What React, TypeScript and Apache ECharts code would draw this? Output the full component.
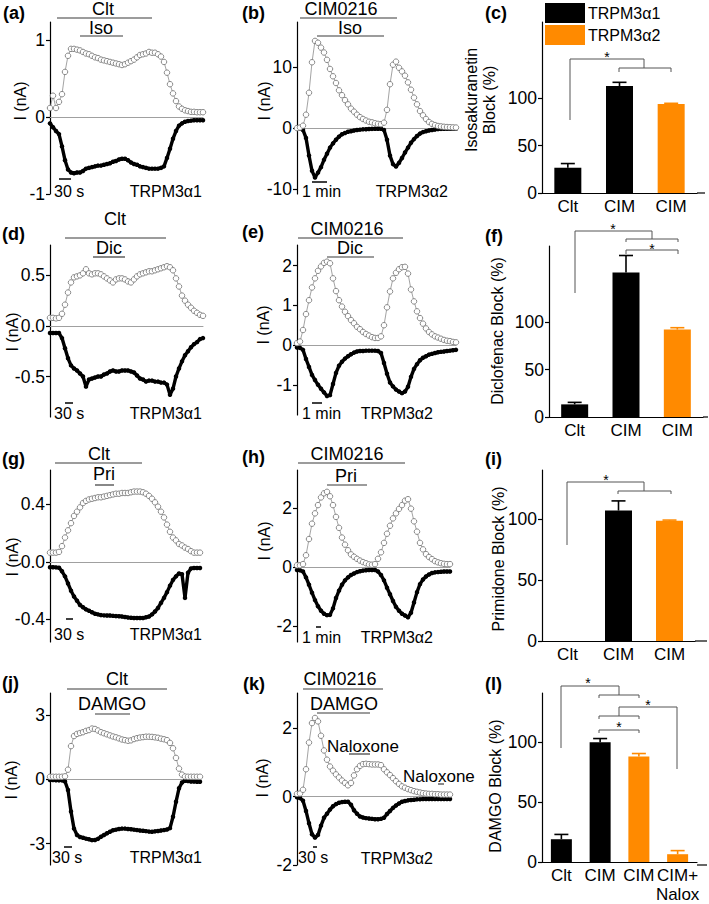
import React, { useEffect, useRef } from "react";
import * as echarts from "echarts";

const FONT = "'Liberation Sans', Arial, Helvetica, sans-serif";
const ORANGE = "#ff8a00";

// ---------- current traces (nA), uniformly sampled in time ----------
const A_DT = 7;
const A_OUT = [0.12,0.28,0.12,0.2,0.3,0.59,0.8,0.89,0.89,0.88,0.87,0.85,0.83,0.82,0.8,0.78,0.77,0.75,0.74,0.73,0.72,0.71,0.7,0.69,0.68,0.69,0.71,0.73,0.75,0.78,0.81,0.82,0.83,0.85,0.84,0.84,0.82,0.79,0.72,0.58,0.43,0.31,0.21,0.14,0.11,0.09,0.08,0.07,0.07,0.065,0.065,0.065];
const A_IN = [-0.08,-0.13,-0.18,-0.22,-0.38,-0.56,-0.68,-0.72,-0.73,-0.72,-0.72,-0.7,-0.67,-0.66,-0.65,-0.64,-0.63,-0.63,-0.62,-0.61,-0.6,-0.58,-0.57,-0.55,-0.54,-0.54,-0.56,-0.59,-0.61,-0.62,-0.64,-0.65,-0.66,-0.67,-0.67,-0.67,-0.67,-0.66,-0.64,-0.53,-0.41,-0.28,-0.18,-0.11,-0.08,-0.06,-0.05,-0.045,-0.04,-0.04,-0.04,-0.04];

const B_DT = 10;
const B_OUT = [0,0.1,0.4,2.2,5.8,10.8,14.3,14.0,13.2,12.4,11.2,9.7,8.5,7.4,6.2,5.4,4.6,3.9,3.2,2.7,2.2,1.8,1.5,1.25,1.05,0.95,0.8,0.7,0.65,0.9,3.0,7.2,10.4,10.9,9.9,9.3,8.6,7.5,6.3,5.0,3.9,2.8,2.1,1.5,1.0,0.7,0.5,0.35,0.28,0.22,0.18,0.15,0.12,0.1];
const B_IN = [0,-0.05,-0.3,-1.6,-4.5,-7.0,-8.1,-7.3,-6.4,-5.2,-4.2,-3.2,-2.5,-1.9,-1.4,-1.0,-0.8,-0.6,-0.5,-0.4,-0.3,-0.25,-0.2,-0.18,-0.15,-0.12,-0.1,-0.1,-0.1,-0.3,-1.9,-4.5,-5.9,-6.3,-5.7,-4.9,-4.0,-3.2,-2.4,-1.8,-1.3,-0.9,-0.65,-0.5,-0.38,-0.3,-0.22,-0.17,-0.13,-0.11,-0.1,-0.1,-0.1,-0.1];

const D_DT = 9;
const D_OUT = [0.08,0.08,0.075,0.08,0.12,0.21,0.33,0.43,0.48,0.49,0.5,0.52,0.56,0.52,0.51,0.52,0.52,0.51,0.49,0.47,0.45,0.43,0.46,0.47,0.47,0.46,0.44,0.43,0.46,0.49,0.51,0.52,0.53,0.54,0.54,0.55,0.56,0.57,0.58,0.59,0.58,0.55,0.47,0.39,0.3,0.25,0.21,0.18,0.15,0.13,0.11,0.1];
const D_IN = [-0.07,-0.07,-0.07,-0.07,-0.12,-0.22,-0.32,-0.39,-0.42,-0.44,-0.47,-0.5,-0.6,-0.53,-0.52,-0.51,-0.5,-0.5,-0.48,-0.47,-0.45,-0.44,-0.45,-0.45,-0.44,-0.44,-0.44,-0.45,-0.46,-0.49,-0.52,-0.53,-0.55,-0.54,-0.54,-0.55,-0.55,-0.56,-0.56,-0.58,-0.68,-0.62,-0.5,-0.42,-0.35,-0.29,-0.25,-0.21,-0.18,-0.16,-0.13,-0.12];

const E_DT = 18;
const E_OUT = [0.05,0.09,0.38,0.78,1.13,1.45,1.68,1.87,1.98,2.07,2.1,2.06,1.68,1.36,1.13,0.97,0.84,0.73,0.63,0.55,0.46,0.4,0.33,0.28,0.24,0.2,0.18,0.18,0.22,0.5,0.95,1.35,1.68,1.82,1.91,1.96,1.97,1.8,1.4,1.1,0.85,0.68,0.54,0.42,0.33,0.27,0.22,0.19,0.16,0.13,0.11,0.1,0.08,0.07];
const E_IN = [-0.06,-0.07,-0.12,-0.35,-0.55,-0.75,-0.88,-1.0,-1.1,-1.19,-1.28,-1.26,-0.98,-0.7,-0.52,-0.42,-0.34,-0.28,-0.23,-0.19,-0.16,-0.15,-0.15,-0.14,-0.14,-0.14,-0.14,-0.15,-0.2,-0.45,-0.72,-0.94,-1.04,-1.12,-1.17,-1.21,-1.17,-1.05,-0.8,-0.6,-0.48,-0.38,-0.32,-0.28,-0.24,-0.22,-0.2,-0.18,-0.17,-0.16,-0.15,-0.14,-0.13,-0.12];

const G_DT = 9;
const G_OUT = [0.065,0.065,0.065,0.07,0.11,0.17,0.22,0.27,0.32,0.35,0.38,0.41,0.425,0.435,0.44,0.445,0.45,0.45,0.455,0.46,0.465,0.47,0.475,0.475,0.48,0.48,0.48,0.485,0.49,0.49,0.49,0.485,0.475,0.46,0.44,0.415,0.385,0.35,0.31,0.26,0.21,0.17,0.15,0.125,0.115,0.1,0.09,0.075,0.065,0.065,0.065];
const G_IN = [-0.037,-0.037,-0.038,-0.04,-0.065,-0.1,-0.15,-0.2,-0.24,-0.27,-0.3,-0.315,-0.33,-0.34,-0.35,-0.36,-0.365,-0.37,-0.372,-0.373,-0.373,-0.375,-0.377,-0.378,-0.38,-0.383,-0.386,-0.388,-0.39,-0.39,-0.39,-0.39,-0.385,-0.38,-0.365,-0.345,-0.32,-0.285,-0.25,-0.21,-0.165,-0.125,-0.1,-0.08,-0.085,-0.25,-0.075,-0.045,-0.042,-0.042,-0.042];

const H_DT = 17;
const H_OUT = [0.06,0.06,0.1,0.4,0.95,1.47,1.82,2.1,2.36,2.5,2.55,2.4,2.1,1.7,1.33,1.0,0.76,0.57,0.43,0.35,0.28,0.22,0.17,0.13,0.09,0.08,0.1,0.28,0.5,0.82,1.13,1.4,1.65,1.82,1.97,2.1,2.25,2.3,1.98,1.55,1.2,0.82,0.6,0.44,0.34,0.27,0.2,0.16,0.13,0.11,0.1,0.1];
const H_IN = [-0.1,-0.11,-0.15,-0.35,-0.6,-0.87,-1.12,-1.33,-1.48,-1.58,-1.63,-1.62,-1.4,-1.05,-0.8,-0.6,-0.45,-0.35,-0.27,-0.22,-0.17,-0.14,-0.12,-0.11,-0.1,-0.1,-0.1,-0.15,-0.27,-0.45,-0.7,-0.92,-1.15,-1.35,-1.48,-1.58,-1.64,-1.7,-1.55,-1.2,-0.85,-0.58,-0.42,-0.32,-0.25,-0.2,-0.18,-0.17,-0.16,-0.15,-0.15,-0.15];

const J_DT = 7;
const J_OUT = [0.12,0.12,0.12,0.12,0.12,0.14,0.45,1.55,2.02,2.12,2.16,2.2,2.26,2.3,2.37,2.35,2.28,2.2,2.15,2.1,2.05,2.0,1.96,1.91,1.86,1.83,1.8,1.82,1.88,1.92,1.95,1.97,1.99,1.99,1.98,1.96,1.94,1.9,1.87,1.83,1.7,1.45,1.0,0.5,0.22,0.13,0.12,0.12,0.12,0.12,0.12];
const J_IN = [-0.03,-0.03,-0.04,-0.05,-0.05,-0.1,-0.5,-1.5,-2.3,-2.6,-2.69,-2.73,-2.77,-2.8,-2.84,-2.83,-2.78,-2.68,-2.6,-2.52,-2.45,-2.38,-2.35,-2.32,-2.3,-2.3,-2.32,-2.33,-2.35,-2.37,-2.39,-2.4,-2.42,-2.44,-2.45,-2.43,-2.41,-2.39,-2.37,-2.34,-2.28,-1.75,-1.05,-0.42,-0.15,-0.07,-0.08,-0.1,-0.1,-0.11,-0.11];

const K_DT = 7;
const K_OUT = [0.08,0.09,0.2,0.8,1.58,2.15,2.3,2.2,1.78,1.35,1.08,0.88,0.76,0.65,0.56,0.47,0.4,0.33,0.4,0.62,0.8,0.9,0.95,0.96,0.95,0.94,0.94,0.94,0.92,0.8,0.71,0.63,0.54,0.45,0.37,0.3,0.26,0.22,0.19,0.16,0.14,0.12,0.1,0.09,0.08,0.08,0.07,0.07,0.06,0.06,0.06,0.06];
const K_IN = [-0.02,-0.04,-0.12,-0.42,-0.78,-1.1,-1.2,-1.12,-0.85,-0.62,-0.5,-0.38,-0.28,-0.22,-0.18,-0.16,-0.15,-0.15,-0.24,-0.4,-0.5,-0.58,-0.61,-0.63,-0.64,-0.65,-0.66,-0.66,-0.65,-0.62,-0.51,-0.42,-0.33,-0.26,-0.2,-0.15,-0.13,-0.11,-0.1,-0.09,-0.08,-0.08,-0.07,-0.07,-0.07,-0.07,-0.07,-0.07,-0.07,-0.07,-0.07,-0.07];

// ---------- block summary bars (%) ----------
const C_CATS = ["Clt", "CIM", "CIM"];
const C_MEAN = [26.6, 112.6, 93.7];
const C_ERR = [31, 116.5, 94.4];
const C_ISO = [1, 1, 2];

const F_CATS = ["Clt", "CIM", "CIM"];
const F_MEAN = [13.3, 152, 92];
const F_ERR = [15.4, 170, 94];
const F_ISO = [1, 1, 2];

const I_CATS = ["Clt", "CIM", "CIM"];
const I_MEAN = [0, 106.8, 98.4];
const I_ERR = [0, 114.7, 99];
const I_ISO = [1, 1, 2];

const L_CATS = ["Clt", "CIM", "CIM", "CIM+\nNalox"];
const L_MEAN = [19, 100, 88, 6.5];
const L_ERR = [23, 103, 90.5, 9.5];
const L_ISO = [1, 1, 2, 2];

const BAR_TICKS = [0, 50, 100];

function buildOption() {
  const grid: any[] = [];
  const xAxis: any[] = [];
  const yAxis: any[] = [];
  const series: any[] = [];

  const yAxisBase = (gi: number, min: number, max: number, ticks: number[], fmt: (v: number) => string) => ({
    gridIndex: gi,
    type: "value",
    min,
    max,
    axisLine: { show: true, onZero: false, lineStyle: { color: "#000", width: 1.2 } },
    axisTick: { show: true, length: 4, customValues: ticks, lineStyle: { color: "#000", width: 1.2 } },
    axisLabel: { customValues: ticks, formatter: fmt, fontSize: 17.5, color: "#000", fontFamily: FONT, margin: 5 },
    splitLine: { show: false },
  });

  const addTrace = (p: any) => {
    const gi = grid.length;
    const n = p.out.length;
    grid.push({ left: p.left, top: p.top, width: (n - 1) * 3, height: p.height });
    xAxis.push({
      gridIndex: gi,
      type: "value",
      min: 0,
      max: (n - 1) * p.dt,
      axisLine: { show: true, onZero: true, lineStyle: { color: "#a0a0a0", width: 1 } },
      axisTick: { show: false },
      axisLabel: { show: false },
      splitLine: { show: false },
    });
    yAxis.push(yAxisBase(gi, p.min, p.max, p.ticks, p.fmt));
    series.push({
      type: "line",
      xAxisIndex: gi,
      yAxisIndex: gi,
      data: p.in.map((v: number, i: number) => [i * p.dt, v]),
      symbol: "circle",
      symbolSize: 4.5,
      showSymbol: true,
      showAllSymbol: true,
      itemStyle: { color: "#000" },
      lineStyle: { color: "#000", width: 3.4 },
      silent: true,
      z: 3,
    });
    series.push({
      type: "line",
      xAxisIndex: gi,
      yAxisIndex: gi,
      data: p.out.map((v: number, i: number) => [i * p.dt, v]),
      symbol: "circle",
      symbolSize: 5.5,
      showSymbol: true,
      showAllSymbol: true,
      itemStyle: { color: "#fff", borderColor: "#7c7c7c", borderWidth: 0.9 },
      lineStyle: { color: "#8c8c8c", width: 0.8 },
      silent: true,
      z: 4,
    });
  };

  const addBars = (p: any) => {
    const gi = grid.length;
    grid.push({ left: p.left, top: p.top, width: p.width, height: p.height });
    xAxis.push({
      gridIndex: gi,
      type: "category",
      data: p.cats,
      axisLine: { show: true, lineStyle: { color: "#000", width: 1.2 } },
      axisTick: { show: false },
      axisLabel: { fontSize: 17, color: "#000", fontFamily: FONT, margin: 4, lineHeight: 19, interval: 0 },
      splitLine: { show: false },
    });
    yAxis.push(yAxisBase(gi, 0, p.max, BAR_TICKS, (v: number) => String(v)));
    series.push({
      type: "bar",
      xAxisIndex: gi,
      yAxisIndex: gi,
      barWidth: p.barWidth,
      silent: true,
      data: p.mean.map((v: number, i: number) => ({
        value: v,
        itemStyle: { color: p.iso[i] === 1 ? "#000" : ORANGE },
      })),
    });
    series.push({
      type: "custom",
      xAxisIndex: gi,
      yAxisIndex: gi,
      silent: true,
      z: 5,
      data: p.mean.map((v: number, i: number) => [i, v, p.err[i], p.iso[i]]),
      renderItem: (_params: any, api: any) => {
        const x = api.value(0);
        const v = api.value(1);
        const e = api.value(2);
        if (!(e > v)) return null;
        const p0 = api.coord([x, v]);
        const p1 = api.coord([x, e]);
        const color = api.value(3) === 1 ? "#000" : ORANGE;
        const hw = 7;
        return {
          type: "group",
          children: [
            { type: "line", shape: { x1: p0[0], y1: p0[1], x2: p1[0], y2: p1[1] }, style: { stroke: color, lineWidth: 1.6 } },
            { type: "line", shape: { x1: p1[0] - hw, y1: p1[1], x2: p1[0] + hw, y2: p1[1] }, style: { stroke: color, lineWidth: 1.6 } },
          ],
        };
      },
    });
  };

  const fInt = (v: number) => String(v);
  const f1 = (v: number) => v.toFixed(1);

  addTrace({ left: 50, top: 22, height: 172, dt: A_DT, out: A_OUT, in: A_IN, min: -1, max: 1.24, ticks: [-1, 0, 1], fmt: fInt });
  addTrace({ left: 297, top: 22, height: 172, dt: B_DT, out: B_OUT, in: B_IN, min: -10.8, max: 17.4, ticks: [-10, 0, 10], fmt: fInt });
  addBars({ left: 542, top: 22, width: 155, height: 171, max: 180, cats: C_CATS, mean: C_MEAN, err: C_ERR, iso: C_ISO, barWidth: 27 });

  addTrace({ left: 50, top: 245, height: 172, dt: D_DT, out: D_OUT, in: D_IN, min: -0.9, max: 0.8, ticks: [-0.5, 0, 0.5], fmt: f1 });
  addTrace({ left: 297, top: 245, height: 170, dt: E_DT, out: E_OUT, in: E_IN, min: -1.76, max: 2.52, ticks: [-1, 0, 1, 2], fmt: fInt });
  addBars({ left: 549, top: 246, width: 154, height: 171, max: 180, cats: F_CATS, mean: F_MEAN, err: F_ERR, iso: F_ISO, barWidth: 27 });

  addTrace({ left: 50, top: 470, height: 172, dt: G_DT, out: G_OUT, in: G_IN, min: -0.557, max: 0.64, ticks: [-0.4, 0, 0.4], fmt: f1 });
  addTrace({ left: 297, top: 470, height: 172, dt: H_DT, out: H_OUT, in: H_IN, min: -2.54, max: 3.29, ticks: [-2, 0, 2], fmt: fInt });
  addBars({ left: 542, top: 470, width: 153, height: 171, max: 140, cats: I_CATS, mean: I_MEAN, err: I_ERR, iso: I_ISO, barWidth: 27 });

  addTrace({ left: 50, top: 693, height: 172, dt: J_DT, out: J_OUT, in: J_IN, min: -4, max: 4.03, ticks: [-3, 0, 3], fmt: fInt });
  addTrace({ left: 297, top: 693, height: 172, dt: K_DT, out: K_OUT, in: K_IN, min: -2, max: 3.03, ticks: [-2, 0, 2], fmt: fInt });
  addBars({ left: 542, top: 693, width: 155, height: 172, max: 141, cats: L_CATS, mean: L_MEAN, err: L_ERR, iso: L_ISO, barWidth: 21 });

  // ---------- annotations ----------
  const T = (x: number, y: number, text: string, size = 16, align = "center", extra: any = {}) => ({
    type: "text",
    x,
    y,
    silent: true,
    style: {
      text,
      fill: "#000",
      fontSize: size,
      fontFamily: FONT,
      align,
      textAlign: align,
      verticalAlign: "middle",
      textVerticalAlign: "middle",
      ...extra,
    },
  });
  const R = (x: number, y: number, text: string, size = 16, extra: any = {}) => ({
    ...T(x, y, text, size, "center", extra),
    rotation: Math.PI / 2,
  });
  const L = (x1: number, y1: number, x2: number, y2: number, stroke = "#3a3a3a", w = 1.2) => ({
    type: "line",
    silent: true,
    shape: { x1, y1, x2, y2 },
    style: { stroke, lineWidth: w },
  });
  const P = (points: number[][]) => ({
    type: "polyline",
    silent: true,
    shape: { points },
    style: { stroke: "#555", lineWidth: 1, fill: null },
  });
  const B = (x: number, y: number, s: string) => T(x, y, s, 18, "left", { fontWeight: "bold" });
  const S = (x: number, y: number) => T(x, y, "*", 14);
  const ST = 18; // stimulus label size

  const g: any[] = [
    // panel labels
    B(3, 13, "(a)"), B(242, 13, "(b)"), B(485, 13, "(c)"),
    B(2, 234, "(d)"), B(242, 232, "(e)"), B(485, 236, "(f)"),
    B(2, 459, "(g)"), B(242, 457, "(h)"), B(485, 459, "(i)"),
    B(2, 683, "(j)"), B(243, 684, "(k)"), B(485, 684, "(l)"),

    // stimulus bars
    T(103, 9, "Clt", ST), L(57, 18, 152, 18), T(101, 28, "Iso", ST), L(80, 36, 123, 36),
    T(341, 9, "CIM0216", ST), L(300, 18, 397, 18), T(350, 28, "Iso", ST), L(317, 36, 384, 36),
    T(115, 219, "Clt", ST), L(65, 238, 166, 238), T(109, 248, "Dic", ST), L(93, 257, 125, 257),
    T(347, 229, "CIM0216", ST), L(298, 238, 403, 238), T(350, 248, "Dic", ST), L(327, 257, 374, 257),
    T(99, 454, "Clt", ST), L(55, 463, 142, 463), T(104, 474, "Pri", ST), L(95, 485, 114, 485),
    T(347, 454, "CIM0216", ST), L(298, 463, 405, 463), T(346, 476, "Pri", ST), L(327, 485, 367, 485),
    T(117, 679, "Clt", ST), L(67, 689, 167, 689), T(112, 704, "DAMGO", ST), L(95, 714, 130, 714),
    T(340, 679, "CIM0216", ST), L(303, 689, 383, 689), T(344, 704, "DAMGO", ST), L(317, 713, 370, 713),
    T(363, 746, "Naloxone", 17), L(349, 754, 370, 754),
    T(403, 776, "Naloxone", 17, "left"), L(438, 784, 444, 784),

    // time scale bars and construct labels
    L(59, 179, 71, 179, "#000", 1.5), T(54, 191, "30 s", 16, "left"), T(202, 191, "TRPM3α1", 16, "right"),
    L(312, 182, 327, 182, "#000", 1.5), T(302, 191, "1 min", 16, "left"), T(448, 191, "TRPM3α2", 16, "right"),
    L(65, 403, 73, 403, "#000", 1.5), T(54, 413, "30 s", 16, "left"), T(202, 413, "TRPM3α1", 16, "right"),
    L(312, 403, 322, 403, "#000", 1.5), T(302, 413, "1 min", 16, "left"), T(433, 413, "TRPM3α2", 16, "right"),
    L(66, 619, 73, 619, "#000", 1.5), T(54, 634, "30 s", 16, "left"), T(202, 634, "TRPM3α1", 16, "right"),
    L(316, 627, 321, 627, "#000", 1.5), T(302, 637, "1 min", 16, "left"), T(433, 637, "TRPM3α2", 16, "right"),
    L(64, 847, 72, 847, "#000", 1.5), T(52, 857, "30 s", 16, "left"), T(202, 857, "TRPM3α1", 16, "right"),
    L(313, 847, 317, 847, "#000", 1.5), T(298, 857, "30 s", 16, "left"), T(433, 858, "TRPM3α2", 16, "right"),

    // y-axis titles
    R(20, 101, "I (nA)"), R(264, 101, "I (nA)"),
    R(12, 332, "I (nA)"), R(263, 325, "I (nA)"),
    R(12, 557, "I (nA)"), R(264, 541, "I (nA)"),
    R(11, 780, "I (nA)"), R(262, 778, "I (nA)"),
    R(480, 100, "Isosakuranetin\nBlock (%)", 16, { lineHeight: 18 }),
    R(497, 331, "Diclofenac Block (%)"),
    R(498, 559, "Primidone Block (%)"),
    R(495, 786, "DAMGO Block (%)"),

    // legend
    { type: "rect", silent: true, shape: { x: 545, y: 3, width: 40, height: 20 }, style: { fill: "#000" } },
    { type: "rect", silent: true, shape: { x: 545, y: 25, width: 40, height: 20 }, style: { fill: ORANGE } },
    T(588, 13, "TRPM3α1", 16, "left"),
    T(588, 35, "TRPM3α2", 16, "left"),

    // x-axis line extensions of bar panels
    L(697, 193, 705, 193, "#000", 1.2),
    L(703, 417, 708, 417, "#000", 1.2),
    L(695, 641, 707, 641, "#000", 1.2),
    L(697, 865, 707, 865, "#000", 1.2),

    // significance brackets
    P([[570, 120], [570, 59], [644, 59], [644, 68]]),
    P([[619, 72], [619, 68], [671, 68], [671, 72]]),
    S(607, 57),

    P([[575, 293], [575, 231], [652, 231], [652, 239]]),
    P([[626, 242], [626, 239], [678, 239], [678, 242]]),
    P([[626, 254], [626, 250], [678, 250], [678, 254]]),
    S(613, 229), S(652, 249),

    P([[567, 545], [567, 482], [644, 482], [644, 491]]),
    P([[618, 494], [618, 491], [671, 491], [671, 494]]),
    S(606, 480),

    P([[561, 748], [561, 686], [619, 686], [619, 695]]),
    P([[599, 698], [599, 695], [639, 695], [639, 698]]),
    P([[619, 716], [619, 707], [677, 707], [677, 769]]),
    P([[599, 719], [599, 716], [639, 716], [639, 719]]),
    P([[599, 733], [599, 730], [639, 730], [639, 733]]),
    S(588, 683), S(648, 705), S(619, 727),
  ];

  return {
    animation: false,
    backgroundColor: "#fff",
    textStyle: { fontFamily: FONT },
    grid,
    xAxis,
    yAxis,
    series,
    graphic: g,
  };
}

export default function App() {
  const ref = useRef<HTMLDivElement>(null);
  useEffect(() => {
    const chart = echarts.init(ref.current as HTMLDivElement, null, { renderer: "svg" });
    chart.setOption(buildOption() as any);
    return () => chart.dispose();
  }, []);
  return (
    <div
      ref={ref}
      style={{ position: "absolute", left: 0, top: 0, width: 709, height: 904, background: "#fff" }}
    />
  );
}
